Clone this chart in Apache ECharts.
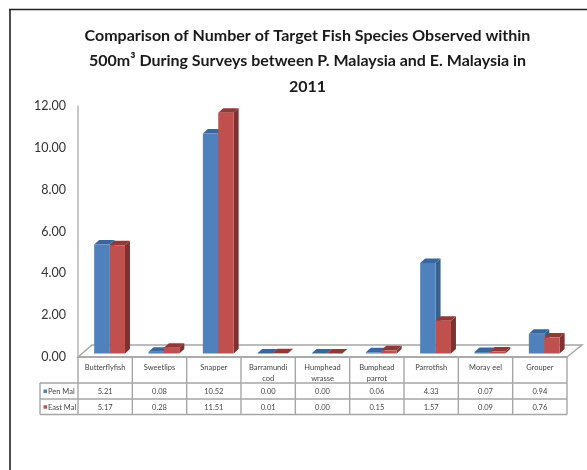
<!DOCTYPE html>
<html><head><meta charset="utf-8">
<style>html,body{margin:0;padding:0;background:#fff}#c{width:587px;height:470px}</style>
<script src="https://cdn.jsdelivr.net/npm/echarts@6/dist/echarts.min.js"></script>
</head><body><div id="c"></div>
<script>
const categories = ['Butterflyfish','Sweetlips','Snapper','Barramundi\ncod','Humphead\nwrasse','Bumphead\nparrot','Parrotfish','Moray eel','Grouper'];
const penMal = [5.21,0.08,10.52,0.00,0.00,0.06,4.33,0.07,0.94];
const eastMal = [5.17,0.28,11.51,0.01,0.00,0.15,1.57,0.09,0.76];
const seriesNames = ['Pen Mal','East Mal'];
const titleText = 'Comparison of Number of Target Fish Species Observed within\n500m³ During Surveys between P. Malaysia and E. Malaysia in\n2011';
const FONT = 'Lato';
const GRID = {left:78, top:106, width:489, height:251};
const BAR_W = 15.4, DEPTH_X = 5, DEPTH_Y = 4.5, SHIFT_X = 4.4, SHIFT_Y = -3.5;
const GRAY = '#a6a6a6';
const palette = [
  {front:'#4f81bd', top:'#3a669b', side:'#38608f'},
  {front:'#c0504d', top:'#8e3a38', side:'#7d3231'}
];
function bar3d(idx){
  return function(params, api){
    const c = palette[idx];
    const p = api.coord([api.value(0), api.value(1)]);
    const b = api.coord([api.value(0), 0]);
    const x0 = p[0] + SHIFT_X + (idx === 0 ? -BAR_W : 0), x1 = x0 + BAR_W;
    const yT = p[1] + SHIFT_Y, yB = b[1] + SHIFT_Y;
    const poly = (pts, fill) => ({type:'polygon', shape:{points:pts}, style:{fill:fill}});
    return {type:'group', children:[
      poly([[x1,yT],[x1+DEPTH_X,yT-DEPTH_Y],[x1+DEPTH_X,yB-DEPTH_Y],[x1,yB]], c.side),
      poly([[x0,yT],[x0+DEPTH_X,yT-DEPTH_Y],[x1+DEPTH_X,yT-DEPTH_Y],[x1,yT]], c.top),
      poly([[x0,yT],[x1,yT],[x1,yB],[x0,yB]], c.front)
    ]};
  };
}
const chart = echarts.init(document.getElementById('c'), null, {renderer:'canvas'});
chart.setOption({
  animation:false,
  backgroundColor:'#fff',
  title:{text:titleText, left:302.5, top:18, textAlign:'center',
    textStyle:{fontFamily:FONT, fontSize:16, fontWeight:'bold', color:'#1a1a1a', lineHeight:25.5}},
  grid:GRID,
  xAxis:{type:'category', data:categories, boundaryGap:true,
    axisLine:{show:false}, axisTick:{show:false},
    axisLabel:{fontFamily:FONT, fontSize:7.5, color:'#444', margin:5, lineHeight:11, verticalAlign:'top', interval:0}},
  yAxis:{type:'value', min:0, max:12, interval:2,
    axisLine:{show:true, lineStyle:{color:'#b5b5b5', width:1.5}}, axisTick:{show:false}, splitLine:{show:false},
    axisLabel:{fontFamily:FONT, fontSize:12.5, color:'#333', margin:12, padding:[2,0,0,0], formatter:v=>v.toFixed(2)}},
  series:[penMal, eastMal].map((vals,i)=>({
    type:'custom', name:seriesNames[i], coordinateSystem:'cartesian2d', clip:false, z:3,
    encode:{x:0,y:1}, data:vals.map((v,k)=>[k,v]), renderItem:bar3d(i)
  }))
});
// table + floor + frame, laid out from the chart's own scales
const gx = i => chart.convertToPixel({xAxisIndex:0}, i);
const band = GRID.width / categories.length;
const L = GRID.left, R = GRID.left + GRID.width, T = GRID.top + GRID.height;
const rowY = [T, 383, 399, 414.5], LEGX = 40, BACKY = 345;
const g = [];
const line = (x1,y1,x2,y2,color,w,z) => ({type:'line', z:z||1, silent:true, shape:{x1,y1,x2,y2}, style:{stroke:color||GRAY, lineWidth:w||1.4}});
const text = (x,y,t,align,size,color) => ({type:'text', z:5, x, y, style:{text:t, fontFamily:FONT, fontSize:size||7.5, fill:color||'#444', align:align||'center', verticalAlign:'middle'}});
g.push({type:'polygon', z:1, shape:{points:[[L,T],[L+14,BACKY],[R+15,BACKY],[R,T]]}, style:{fill:'#fff', stroke:GRAY, lineWidth:1.4}});
for(let k=0;k<=categories.length;k++){ const x=L+k*band; g.push(line(x,T,x,rowY[3])); }
g.push(line(LEGX,rowY[1],LEGX,rowY[3]));
g.push(line(L,T,R,T));
g.push(line(LEGX,rowY[1],R,rowY[1]));
g.push(line(LEGX,rowY[2],R,rowY[2]));
g.push(line(LEGX,rowY[3],R,rowY[3]));
[penMal,eastMal].forEach((vals,r)=>{
  const cy=(rowY[r+1]+rowY[r+2])/2+0.5;
  g.push({type:'rect', z:5, shape:{x:43.5,y:cy-2,width:3.5,height:3.5}, style:{fill:palette[r].front}});
  g.push(text(48,cy,seriesNames[r],'left',7.5));
  vals.forEach((v,k)=>g.push(text(gx(k),cy,v.toFixed(2))));
});
g.push(line(10,9,10,470,'#222',1.6,6));
g.push(line(9,9.5,587,9.5,'#222',1.6,6));
chart.setOption({graphic:{elements:g}});
</script></body></html>
